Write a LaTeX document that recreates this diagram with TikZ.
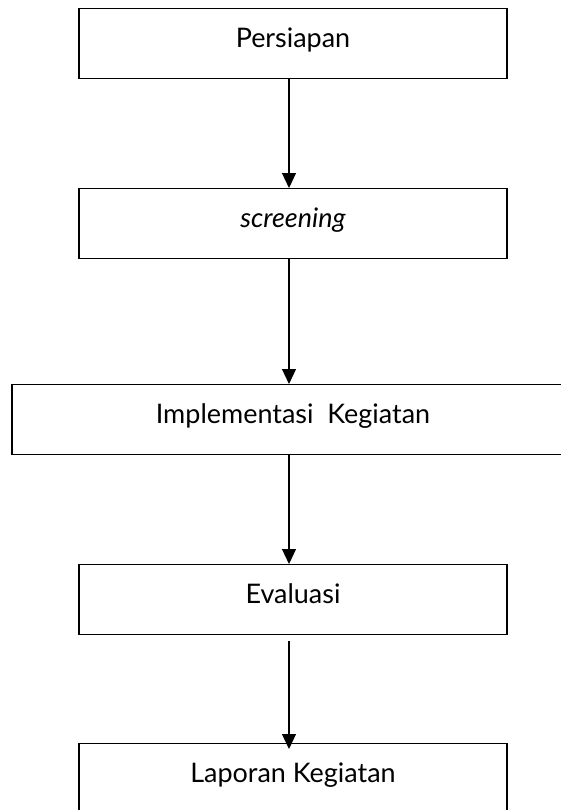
\documentclass[tikz,border=0pt]{standalone}
\usepackage{fontspec}
\setmainfont{Lato}
\usetikzlibrary{arrows.meta}
\tikzset{
	stepbox/.style={draw, line width=1.2pt, inner sep=0pt, anchor=north, minimum width=12.84cm, text height=1.17cm, text depth=0.93cm, font=\fontsize{23}{27}\selectfont},
	arr/.style={line width=1pt, -{Triangle[width=0.42cm,length=0.45cm]}}
}
\begin{document}
\begin{tikzpicture}[x=0.03cm, y=-0.03cm]
			%%%%% START %%%%%
			\useasboundingbox (0, 0) rectangle (561, 810);
			\clip (0, 0) rectangle (561, 810);
			\coordinate (axis) at (289, 0);
			
			\node[stepbox] (prep) at (293, 7.5) {Persiapan};
			\node[stepbox] (scr) at (293, 188) {\itshape screening};
			\node[stepbox, minimum width=16.86cm] (impl) at (293, 384) {Implementasi\ \ Kegiatan};
			\node[stepbox] (eval) at (293, 564) {Evaluasi};
			\node[stepbox] (lap) at (293, 743) {Laporan Kegiatan};
			
			\draw[arr] (prep.south -| axis) -- (scr.north -| axis);
			\draw[arr] (scr.south -| axis) -- (impl.north -| axis);
			\draw[arr] (impl.south -| axis) -- (eval.north -| axis);
			\draw[arr, shorten <=0.18cm, shorten >=-0.18cm] (eval.south -| axis) -- (lap.north -| axis);
			%%%%% END %%%%%
\end{tikzpicture}
\end{document}
